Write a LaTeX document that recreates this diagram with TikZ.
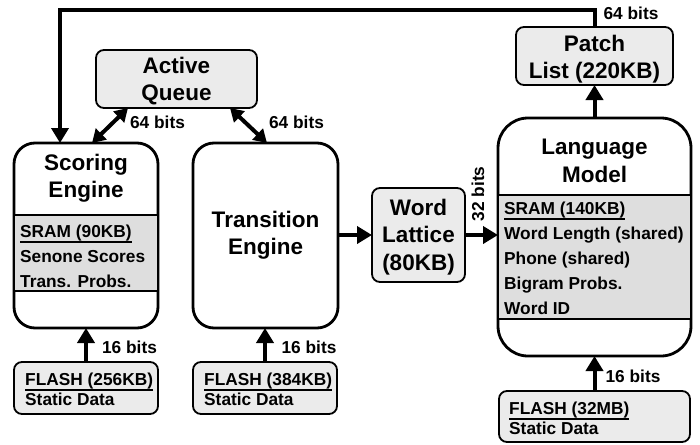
\documentclass[tikz,border=0pt]{standalone}
\usepackage{fontspec}
\setmainfont{Liberation Sans}
\usetikzlibrary{arrows.meta,calc}
\definecolor{boxgray}{HTML}{EBEBEB}
\definecolor{bandgray}{HTML}{DEDEDE}
\newcommand\myul[1]{\setbox0\hbox{#1}\rlap{\raisebox{-5.6pt}{\rule{\wd0}{1.8pt}}}\box0}
\tikzset{
  big/.style={font=\fontsize{22.5}{27.5}\selectfont\bfseries, align=center, inner sep=0pt},
  small/.style={font=\fontsize{17.3}{20}\selectfont\bfseries, inner sep=0pt},
  item/.style={small, anchor=base west},
  engine/.style={draw, line width=2.8pt, rounded corners=21pt, fill=white, inner sep=0pt, outer sep=0pt},
  smallbox/.style={draw, line width=1.8pt, rounded corners=8pt, fill=boxgray, inner sep=0pt, outer sep=0pt},
  bandline/.style={line width=2.4pt},
  conn/.style={line width=4pt, -{Triangle[width=17pt,length=15pt]}},
  dconn/.style={line width=4pt, {Triangle[width=15pt,length=13pt]}-{Triangle[width=15pt,length=13pt]}},
}
\begin{document}
\begin{tikzpicture}[x=1pt,y=-1pt]
\useasboundingbox (0,0) rectangle (700,444);

% engines
\node[engine, minimum width=144pt, minimum height=185pt] (se) at (86,235.5) {};
\node[engine, minimum width=145pt, minimum height=185pt] (te) at (265.5,235.5) {};
\node[engine, rounded corners=30pt, minimum width=193pt, minimum height=238pt] (lm) at (594.5,237) {};

% SRAM bands
\fill[bandgray] (15.4,215) rectangle (156.6,291);
\draw[bandline] (se.west |- 0,215) -- (se.east |- 0,215);
\draw[bandline] (se.west |- 0,291) -- (se.east |- 0,291);
\fill[bandgray] (499.4,195) rectangle (689.6,319);
\draw[bandline] (lm.west |- 0,195) -- (lm.east |- 0,195);
\draw[bandline] (lm.west |- 0,319) -- (lm.east |- 0,319);

% small boxes
\node[smallbox, minimum width=161pt, minimum height=58pt] (aq) at (176.5,79) {};
\node[smallbox, minimum width=157pt, minimum height=58pt] (pl) at (594.5,56) {};
\node[smallbox, minimum width=93pt, minimum height=94pt] (wl) at (418.5,235) {};
\node[smallbox, minimum width=144pt, minimum height=52pt] (f1) at (86,388) {};
\node[smallbox, minimum width=144pt, minimum height=52pt] (f2) at (265,388) {};
\node[smallbox, minimum width=191pt, minimum height=51pt] (f3) at (594.5,416.5) {};

% titles
\node[big] (set) at (86,178) {Scoring\\Engine};
\node[big] (tet) at (265.5,235) {Transition\\Engine};
\node[big] (lmt) at (594.5,161) {Language\\Model};
\node[big] (aqt) at (176.5,81) {Active\\Queue};
\node[big] (plt) at (594.5,59) {Patch\\List (220KB)};
\node[big] (wlt) at (418.5,237) {Word\\Lattice\\(80KB)};

% band items
\node[item] (s1) at (20,237) {\myul{SRAM (90KB)}};
\node[item] (s2) at (20,262) {Senone Scores};
\node[item] (s3) at (20,287) {Trans. Probs.};
\node[item] (l1) at (504,214) {\myul{SRAM (140KB)}};
\node[item] (l2) at (504,239) {Word Length (shared)};
\node[item] (l3) at (504,264) {Phone (shared)};
\node[item] (l4) at (504,289) {Bigram Probs.};
\node[item] (l5) at (504,314) {Word ID};

% flash items
\node[item] (a1) at (25,385) {\myul{FLASH (256KB)}};
\node[item] (a2) at (25,405) {Static Data};
\node[item] (b1) at (204,385) {\myul{FLASH (384KB)}};
\node[item] (b2) at (204,405) {Static Data};
\node[item] (c1) at (509,414) {\myul{FLASH (32MB)}};
\node[item] (c2) at (509,434) {Static Data};

% connectors
\coordinate (tl) at (60,10);
\draw[conn] (pl.north) |- (tl) -- (tl |- se.north);
\node[small] (lbtop) at (631,13) {64 bits};

\draw[dconn] ($(se.north west)+(78,0)$) -- ($(aq.south west)+(32,0)$);
\node[small] (lb1) at (157.5,122) {64 bits};
\draw[dconn] ($(aq.south west)+(134,0)$) -- ($(te.north west)+(74,0)$);
\node[small] (lb2) at (296.5,122) {64 bits};

\draw[conn] (te.east |- wl.west) -- (wl.west);
\draw[conn] (wl.east) -- (lm.west |- wl.east);
\node[small, rotate=90] (lb3) at (478,194) {32 bits};

\draw[conn] (lm.north) -- (pl.south);

\draw[conn] (f1.north) -- (f1.north |- se.south);
\node[small] (lb4) at (129.5,347) {16 bits};
\draw[conn] (f2.north) -- (f2.north |- te.south);
\node[small] (lb5) at (309,347) {16 bits};
\draw[conn] (f3.north) -- (lm.south);
\node[small] (lb6) at (633,376) {16 bits};
\end{tikzpicture}
\end{document}
